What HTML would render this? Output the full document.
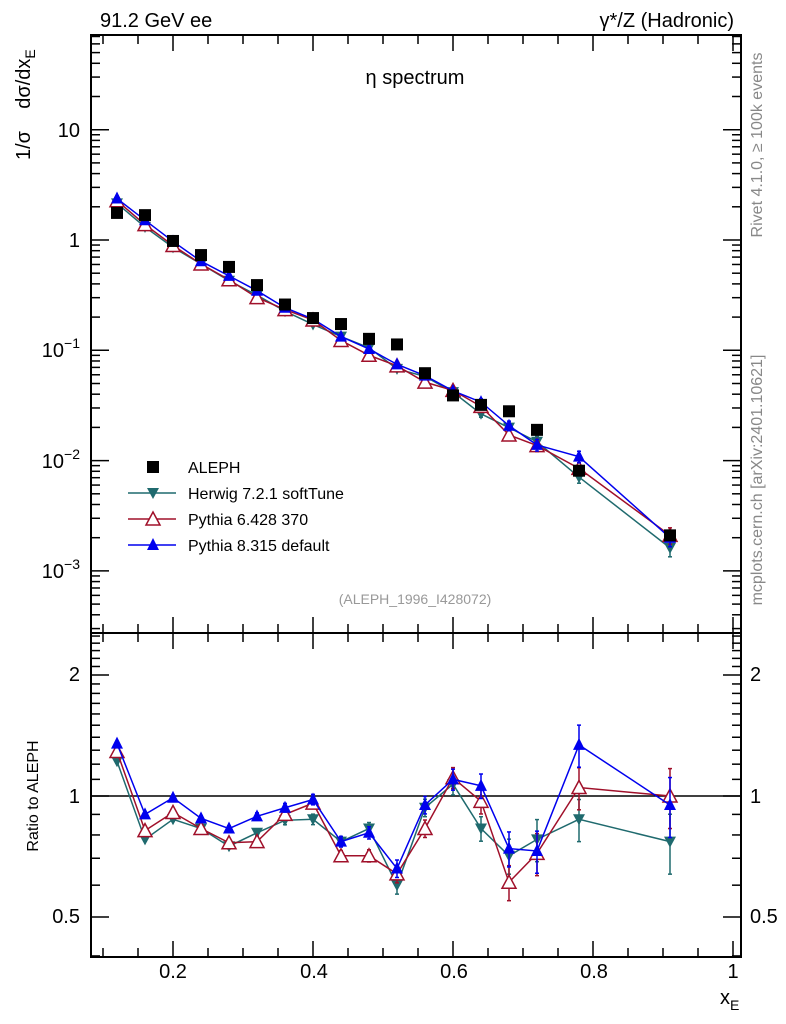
<!DOCTYPE html>
<html><head><meta charset="utf-8"><style>
body{margin:0;background:#fff}
svg{display:block;font-family:"Liberation Sans",sans-serif}
</style></head><body>
<svg id="c" width="786" height="1024" viewBox="0 0 786 1024">
<rect x="91" y="35" width="650" height="598" fill="none" stroke="#000" stroke-width="2"/>
<rect x="91" y="633" width="650" height="324" fill="none" stroke="#000" stroke-width="2"/>
<g id="ticks"></g>
<line x1="91" x2="741" y1="796" y2="796" stroke="#000" stroke-width="1.5"/>
<g font-size="20" text-anchor="end">
<text x="80" y="137">10</text>
<text x="80" y="247">1</text>
<text x="80" y="357">10<tspan dy="-9" font-size="14">−1</tspan></text>
<text x="80" y="468">10<tspan dy="-9" font-size="14">−2</tspan></text>
<text x="80" y="578">10<tspan dy="-9" font-size="14">−3</tspan></text>
<text x="80" y="681">2</text>
<text x="80" y="803">1</text>
<text x="80" y="923">0.5</text>
</g>
<g font-size="20">
<text x="750" y="681">2</text>
<text x="750" y="803">1</text>
<text x="750" y="923">0.5</text>
</g>
<g font-size="20" text-anchor="middle">
<text x="173" y="978">0.2</text>
<text x="314" y="978">0.4</text>
<text x="454" y="978">0.6</text>
<text x="594" y="978">0.8</text>
<text x="733" y="978">1</text>
</g>
<text x="100" y="27" font-size="20">91.2 GeV ee</text>
<text x="734" y="27" font-size="20" text-anchor="end">γ*/Z (Hadronic)</text>
<text x="415" y="84" font-size="20" text-anchor="middle">η spectrum</text>
<text transform="translate(30,160) rotate(-90)" font-size="20" xml:space="preserve">1/σ    dσ/dx<tspan dy="5" font-size="14">E</tspan></text>
<text transform="translate(38,796) rotate(-90)" font-size="16" text-anchor="middle">Ratio to ALEPH</text>
<text x="720" y="1004" font-size="20">x<tspan dy="6" font-size="14">E</tspan></text>
<text transform="translate(762,145) rotate(-90)" font-size="16" fill="#888" text-anchor="middle">Rivet 4.1.0, ≥ 100k events</text>
<text transform="translate(762,480) rotate(-90)" font-size="16" fill="#888" text-anchor="middle">mcplots.cern.ch [arXiv:2401.10621]</text>
<text x="415" y="604" font-size="14" fill="#999" text-anchor="middle">(ALEPH_1996_I428072)</text>
<g font-size="16">
<g><rect x="147" y="461" width="12" height="12" fill="#000"/><text x="188" y="473">ALEPH</text></g>
<g><line x1="128" x2="176" y1="493" y2="493" stroke="#1f6a6e" stroke-width="1.5"/><polygon points="147,488 159,488 153,499" fill="#1f6a6e"/><text x="188" y="499">Herwig 7.2.1 softTune</text></g>
<g><line x1="128" x2="176" y1="519" y2="519" stroke="#a0102a" stroke-width="1.5"/><polygon points="146,525 160,525 153,512" fill="#fff" stroke="#a0102a" stroke-width="1.5"/><text x="188" y="525">Pythia 6.428 370</text></g>
<g><line x1="128" x2="176" y1="545" y2="545" stroke="#0000ee" stroke-width="1.5"/><polygon points="147,550 159,550 153,538" fill="#0000ee"/><text x="188" y="551">Pythia 8.315 default</text></g>
</g>
<g id="marks"></g>
</svg>
<script>
var xs=[0.12,0.16,0.2,0.24,0.28,0.32,0.36,0.40,0.44,0.48,0.52,0.56,0.6,0.64,0.68,0.72,0.78,0.91];
var aleph=[1.76,1.68,0.98,0.73,0.57,0.39,0.26,0.196,0.173,0.127,0.113,0.062,0.039,0.032,0.028,0.019,0.0081,0.0021];
var rHerwig=[1.22,0.78,0.875,0.83,0.75,0.81,0.87,0.875,0.77,0.83,0.60,0.935,1.07,0.83,0.71,0.78,0.875,0.77];
var rPy6=[1.29,0.82,0.91,0.83,0.765,0.77,0.90,0.96,0.71,0.71,0.64,0.83,1.11,0.97,0.61,0.72,1.05,1.0];
var rPy8=[1.35,0.90,0.99,0.88,0.83,0.89,0.935,0.98,0.77,0.81,0.66,0.95,1.10,1.06,0.74,0.73,1.34,0.95];
var relErr=[0.01,0.01,0.01,0.015,0.015,0.02,0.025,0.03,0.03,0.035,0.05,0.05,0.06,0.07,0.1,0.12,0.12,0.17];
var SVGNS="http://www.w3.org/2000/svg";
var PL=91,PR=741,PT=35,PM=633,PB=957;
function sx(v){return 173+(v-0.2)*700;}
function sym(v){return 240-Math.log(v)/Math.LN10*110.3;}
function syr(v){return 796-Math.log(v)/Math.LN2*121;}
function mk(tag,attrs,parent){var e=document.createElementNS(SVGNS,tag);for(var k in attrs){e.setAttribute(k,attrs[k]);}parent.appendChild(e);return e;}
var tg=document.getElementById('ticks');
var i,d,m,v,y,x,len;
for(i=2;i<=20;i++){v=i*0.05;x=sx(v);if(x<PL||x>PR)continue;len=(i%4==0)?16:9;
 mk('line',{x1:x,x2:x,y1:PT,y2:PT+len,stroke:'#000','stroke-width':1.5},tg);
 mk('line',{x1:x,x2:x,y1:PM,y2:PM-len,stroke:'#000','stroke-width':1.5},tg);
 mk('line',{x1:x,x2:x,y1:PM,y2:PM+len,stroke:'#000','stroke-width':1.5},tg);
 mk('line',{x1:x,x2:x,y1:PB,y2:PB-len,stroke:'#000','stroke-width':1.5},tg);}
for(d=-4;d<=1;d++){for(m=1;m<10;m++){v=m*Math.pow(10,d);y=sym(v);if(y<PT||y>PM)continue;len=(m==1)?18:9;
 mk('line',{x1:PL,x2:PL+len,y1:y,y2:y,stroke:'#000','stroke-width':1.5},tg);
 mk('line',{x1:PR,x2:PR-len,y1:y,y2:y,stroke:'#000','stroke-width':1.5},tg);}}
var rt=[0.4,0.5,0.6,0.7,0.8,0.9,1,1.1,1.2,1.3,1.4,1.5,1.6,1.7,1.8,1.9,2,2.1,2.2,2.3,2.4,2.5];
for(i=0;i<rt.length;i++){y=syr(rt[i]);if(y<PM||y>PB)continue;len=(rt[i]==0.5||rt[i]==1||rt[i]==2)?18:9;
 mk('line',{x1:PL,x2:PL+len,y1:y,y2:y,stroke:'#000','stroke-width':1.5},tg);
 mk('line',{x1:PR,x2:PR-len,y1:y,y2:y,stroke:'#000','stroke-width':1.5},tg);}
var mg=document.getElementById('marks');
function marker(type,x,y,col,g){
 if(type=='sq')return mk('rect',{x:x-6,y:y-6,width:12,height:12,fill:'#000'},g);
 if(type=='down')return mk('polygon',{points:(x-6)+','+(y-5)+' '+(x+6)+','+(y-5)+' '+x+','+(y+6),fill:col},g);
 if(type=='up')return mk('polygon',{points:(x-6)+','+(y+5)+' '+(x+6)+','+(y+5)+' '+x+','+(y-7),fill:col},g);
 return mk('polygon',{points:(x-7)+','+(y+6)+' '+(x+7)+','+(y+6)+' '+x+','+(y-7),fill:'#fff',stroke:col,'stroke-width':1.5},g);}
var series=[{name:'herwig',r:rHerwig,col:'#1f6a6e',m:'down'},{name:'pythia6',r:rPy6,col:'#a0102a',m:'upo'},{name:'pythia8',r:rPy8,col:'#0000ee',m:'up'}];
for(var s=0;s<series.length;s++){
 var S=series[s];
 var g=mk('g',{},mg);
 
 
 var p1=[],p2=[],vals=[];
 for(i=0;i<xs.length;i++){vals.push(aleph[i]*S.r[i]);p1.push(sx(xs[i])+','+sym(vals[i]));p2.push(sx(xs[i])+','+syr(S.r[i]));}
 mk('polyline',{points:p1.join(' '),fill:'none',stroke:S.col,'stroke-width':1.5},g);
 mk('polyline',{points:p2.join(' '),fill:'none',stroke:S.col,'stroke-width':1.5},g);
 for(i=0;i<xs.length;i++){
  x=sx(xs[i]);var e=relErr[i];
  var pairs=[[sym(vals[i]*(1+e)),sym(vals[i]*(1-e))],[syr(S.r[i]*(1+e)),syr(S.r[i]*(1-e))]];
  for(var q=0;q<2;q++){
   mk('line',{x1:x,x2:x,y1:pairs[q][0],y2:pairs[q][1],stroke:S.col,'stroke-width':1.5},g);
   mk('line',{x1:x-2,x2:x+2,y1:pairs[q][0],y2:pairs[q][0],stroke:S.col,'stroke-width':1.5},g);
   mk('line',{x1:x-2,x2:x+2,y1:pairs[q][1],y2:pairs[q][1],stroke:S.col,'stroke-width':1.5},g);}
  marker(S.m,x,sym(vals[i]),S.col,g);
  marker(S.m,x,syr(S.r[i]),S.col,g);}
}
var gd=mk('g',{},mg);


for(i=0;i<xs.length;i++){
 var pt=marker('sq',sx(xs[i]),sym(aleph[i]),'#000',gd);
 
 
}
</script>
</body></html>
